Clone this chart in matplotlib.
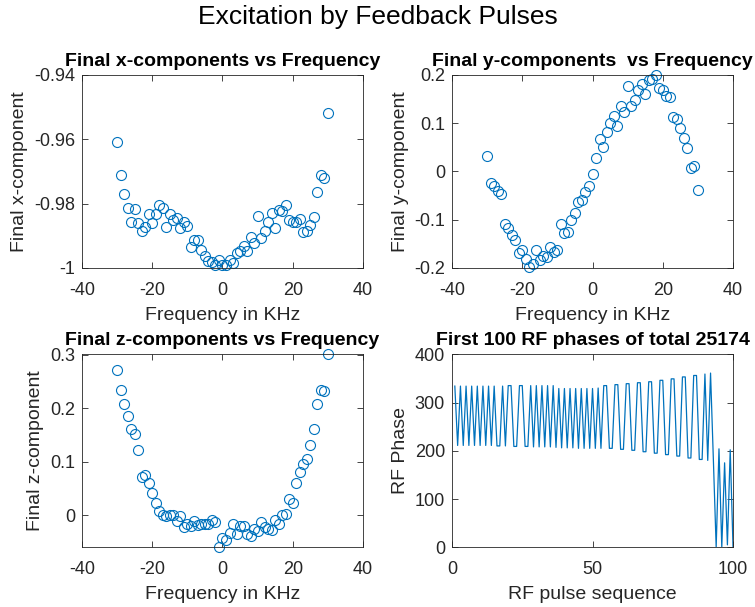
import numpy as np
import matplotlib
matplotlib.use("Agg")
import matplotlib.pyplot as plt

plt.rcParams['font.family'] = ['Liberation Sans', 'DejaVu Sans']
plt.rcParams['axes.unicode_minus'] = False

# frequency offsets in KHz
freq = list(range(-30, 31))

# final x-component per frequency
x_comp = [-0.9608, -0.9712, -0.9770, -0.9812, -0.9856, -0.9818, -0.9861, -0.9884, -0.9873, -0.9833,
          -0.9861, -0.9833, -0.9803, -0.9814, -0.9873, -0.9833, -0.9851, -0.9845, -0.9876, -0.9856,
          -0.9868, -0.9935, -0.9914, -0.9914, -0.9945, -0.9964, -0.9979, -0.9982, -0.9990, -0.9974,
          -0.9990, -0.9992, -0.9974, -0.9985, -0.9954, -0.9948, -0.9933, -0.9948, -0.9904, -0.9923,
          -0.9837, -0.9907, -0.9885, -0.9856, -0.9830, -0.9876, -0.9820, -0.9822, -0.9803, -0.9851,
          -0.9856, -0.9856, -0.9848, -0.9887, -0.9884, -0.9866, -0.9840, -0.9763, -0.9712, -0.9719,
          -0.9519]

# final y-component per frequency
y_comp = [0.0319, -0.0236, -0.0299, -0.0403, -0.0472, -0.1097, -0.1167, -0.1326, -0.1417, -0.1688,
          -0.1625, -0.1813, -0.1972, -0.1917, -0.1618, -0.1833, -0.1743, -0.1764, -0.1556, -0.1674,
          -0.1618, -0.1097, -0.1278, -0.1257, -0.1014, -0.0854, -0.0632, -0.0597, -0.0424, -0.0299,
          -0.0042, 0.0271, 0.0674, 0.0500, 0.0826, 0.1000, 0.1153, 0.0944, 0.1347, 0.1229,
          0.1778, 0.1361, 0.1486, 0.1694, 0.1819, 0.1604, 0.1889, 0.1917, 0.2007, 0.1729,
          0.1681, 0.1569, 0.1535, 0.1139, 0.1083, 0.0896, 0.0688, 0.0479, 0.0063, 0.0111,
          -0.0375]

# final z-component per frequency
z_comp = [0.2723, 0.2336, 0.2087, 0.1863, 0.1620, 0.1520, 0.1215, 0.0723, 0.0748, 0.0604,
          0.0417, 0.0231, 0.0075, 0.0012, -0.0006, 0.0012, 0.0000, -0.0112, -0.0019, -0.0218,
          -0.0174, -0.0206, -0.0100, -0.0187, -0.0162, -0.0156, -0.0174, -0.0081, -0.0125, -0.0600,
          -0.0424, -0.0455, -0.0330, -0.0174, -0.0361, -0.0206, -0.0206, -0.0349, -0.0393, -0.0249,
          -0.0299, -0.0125, -0.0218, -0.0249, -0.0268, -0.0081, -0.0156, 0.0000, 0.0025, 0.0312,
          0.0231, 0.0604, 0.0804, 0.0966, 0.1053, 0.1321, 0.1614, 0.2087, 0.2349, 0.2330,
          0.3010]

# first 100 RF phases (degrees)
rf_phase = [334, 211, 334, 211, 334, 211, 334, 211, 334, 211,
            334, 211, 334, 211, 334, 210, 210, 334, 210, 335,
            335, 209, 209, 335, 335, 209, 209, 335, 208, 335,
            208, 335, 208, 335, 208, 335, 207, 329, 206, 329,
            206, 329, 206, 329, 205, 329, 205, 329, 205, 329,
            205, 330, 205, 335, 335, 205, 205, 337, 337, 203,
            203, 339, 339, 201, 201, 341, 341, 198, 198, 343,
            343, 195, 195, 346, 346, 192, 192, 349, 349, 189,
            189, 353, 353, 185, 185, 356, 356, 182, 182, 359,
            180, 361, 182, 0, 204, 0, 175, 5, 202, 0]
pulse_idx = list(range(1, 101))

blue = '#0072BD'
gray = '#262626'

fig = plt.figure(figsize=(7.55, 6.07), dpi=100)
fig.suptitle('Excitation by Feedback Pulses', fontsize=19, y=0.992)

def style(ax):
    ax.tick_params(direction='in', top=True, right=True, length=4, width=0.6,
                   colors=gray, labelsize=13, pad=5)
    ax.tick_params(axis='x', pad=10)
    ax.xaxis.labelpad = 6
    for s in ax.spines.values():
        s.set_color(gray)
        s.set_linewidth(0.6)

# x-component
ax1 = fig.add_axes([0.1086, 0.5585, 0.3722, 0.318])
ax1.plot(freq, x_comp, 'o', mfc='none', mec=blue, ms=7.2, mew=0.8, clip_on=False)
ax1.set_xlim(-40, 40)
ax1.set_ylim(-1, -0.94)
ax1.set_xticks([-40, -20, 0, 20, 40])
ax1.set_yticks([-1, -0.98, -0.96, -0.94])
ax1.set_yticklabels(['-1', '-0.98', '-0.96', '-0.94'])
ax1.set_title('Final x-components vs Frequency', fontsize=14, fontweight='bold', pad=6.5)
ax1.set_xlabel('Frequency in KHz', fontsize=14, color=gray)
ax1.set_ylabel('Final x-component', fontsize=14, color=gray)
style(ax1)

# y-component
ax2 = fig.add_axes([0.5987, 0.5585, 0.3722, 0.318])
ax2.plot(freq, y_comp, 'o', mfc='none', mec=blue, ms=7.2, mew=0.8, clip_on=False)
ax2.set_xlim(-40, 40)
ax2.set_ylim(-0.2, 0.2)
ax2.set_xticks([-40, -20, 0, 20, 40])
ax2.set_yticks([-0.2, -0.1, 0, 0.1, 0.2])
ax2.set_yticklabels(['-0.2', '-0.1', '0', '0.1', '0.2'])
ax2.set_title('Final y-components  vs Frequency', fontsize=14, fontweight='bold', pad=6.5)
ax2.set_xlabel('Frequency in KHz', fontsize=14, color=gray)
ax2.set_ylabel('Final y-component', fontsize=14, color=gray)
style(ax2)

# z-component
ax3 = fig.add_axes([0.1086, 0.0984, 0.3722, 0.318])
ax3.plot(freq, z_comp, 'o', mfc='none', mec=blue, ms=7.2, mew=0.8, clip_on=False)
ax3.set_xlim(-40, 40)
ax3.set_ylim(min(z_comp), max(z_comp))
ax3.set_xticks([-40, -20, 0, 20, 40])
ax3.set_yticks([0, 0.1, 0.2, 0.3])
ax3.set_yticklabels(['0', '0.1', '0.2', '0.3'])
ax3.set_title('Final z-components vs Frequency', fontsize=14, fontweight='bold', pad=6.5)
ax3.set_xlabel('Frequency in KHz', fontsize=14, color=gray)
ax3.set_ylabel('Final z-component', fontsize=14, color=gray)
style(ax3)

# RF phases
ax4 = fig.add_axes([0.5987, 0.0984, 0.3722, 0.318])
ax4.plot(pulse_idx, rf_phase, '-', color=blue, lw=0.9)
ax4.set_xlim(0, 100)
ax4.set_ylim(0, 400)
ax4.set_xticks([0, 50, 100])
ax4.set_yticks([0, 100, 200, 300, 400])
ax4.set_title('First 100 RF phases of total 25174', fontsize=14, fontweight='bold', pad=6.5)
ax4.set_xlabel('RF pulse sequence', fontsize=14, color=gray)
ax4.set_ylabel('RF Phase', fontsize=14, color=gray)
style(ax4)

fig.savefig('out.png', dpi=100)
